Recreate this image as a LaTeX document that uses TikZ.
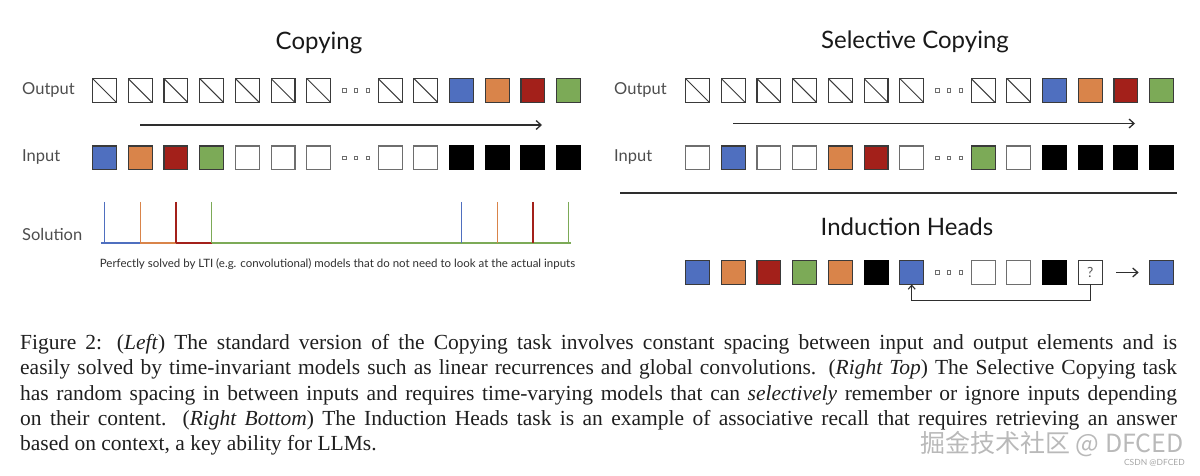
\documentclass[tikz,border=0pt]{standalone}
\usepackage{fontspec}
\setmainfont{Liberation Serif}
\newfontfamily\lato{Lato}
\newfontfamily\cjk{Noto Sans CJK SC}
\usetikzlibrary{arrows.meta}
\definecolor{cblue}{HTML}{4F6FBF}
\definecolor{corange}{HTML}{D9844A}
\definecolor{cred}{HTML}{A3201A}
\definecolor{cgreen}{HTML}{7CAA57}
\definecolor{edgedark}{HTML}{3A3A3A}
\definecolor{edgegray}{HTML}{6E6E6E}
\definecolor{txt}{HTML}{2E2E2E}
\tikzset{
  sq/.style={draw=edgedark, line width=1.1bp, minimum width=23.9bp, minimum height=23.9bp, inner sep=0pt, outer sep=0pt},
  sq-h/.style={sq, path picture={\draw[edgedark, line width=1bp] (path picture bounding box.north west) -- (path picture bounding box.south east);}},
  sq-b/.style={sq, fill=cblue},
  sq-o/.style={sq, fill=corange},
  sq-r/.style={sq, fill=cred},
  sq-g/.style={sq, fill=cgreen},
  sq-k/.style={sq, fill=black, draw=black},
  sq-w/.style={sq, draw=edgegray},
  sq-d/.style={minimum width=23.9bp, minimum height=23.9bp, inner sep=0pt, outer sep=0pt},
  qbox/.style={sq, draw=edgedark, line width=0.9bp, font=\lato\fontsize{14bp}{14bp}\selectfont, text=txt!80},
  tinysq/.style={draw=edgegray, line width=0.8bp},
  flow/.style={draw=txt, line width=1.4bp, -{Straight Barb[length=5bp,width=9bp,line width=1.3bp]}},
  back/.style={draw=txt, line width=1.2bp, -{Straight Barb[length=4bp,width=7bp,line width=1.1bp]}},
  rowlabel/.style={anchor=west, inner sep=0pt, font=\lato\fontsize{16.5bp}{16.5bp}\selectfont, text=txt!85},
  title/.style={inner sep=0pt, font=\lato\fontsize{24bp}{24bp}\selectfont, text=black!90},
  solline/.style={line width=1.2bp},
  capline/.style={anchor=base west, inner sep=0pt, font=\fontsize{21.5bp}{25bp}\selectfont, text=black!88},
}
\begin{document}
\begin{tikzpicture}[x=1bp, y=-1bp]
\useasboundingbox (0,0) rectangle (1200,476);

% titles
\node[title] (tcopy) at (319,43) {Copying};
\node[title] (tsel) at (915,42) {Selective Copying};
\node[title] (tind) at (907,227) {Induction Heads};

% row labels
\node[rowlabel] (lout) at (22,90) {Output};
\node[rowlabel] (lin) at (22,157) {Input};
\node[rowlabel] (lsol) at (22,234) {Solution};
\node[rowlabel] (rout) at (614,90) {Output};
\node[rowlabel] (rin) at (614,157) {Input};

% left copying
\foreach \c [count=\i from 0] in {h,h,h,h,h,h,h,d,h,h,b,o,r,g}
  \node[sq-\c] (LO-\i) at ({104.5+35.7*\i},90.5) {};
\foreach \c [count=\i from 0] in {b,o,r,g,w,w,w,d,w,w,k,k,k,k}
  \node[sq-\c] (LI-\i) at ({104.5+35.7*\i},158) {};
% right selective copying
\foreach \c [count=\i from 0] in {h,h,h,h,h,h,h,d,h,h,b,o,r,g}
  \node[sq-\c] (RO-\i) at ({697.5+35.7*\i},90.5) {};
\foreach \c [count=\i from 0] in {w,b,w,w,o,r,w,d,g,w,k,k,k,k}
  \node[sq-\c] (RI-\i) at ({697.5+35.7*\i},158) {};
% induction heads
\foreach \c [count=\i from 0] in {b,o,r,g,o,k,b,d,w,w,k}
  \node[sq-\c] (IH-\i) at ({697.5+35.7*\i},272.5) {};
\node[qbox] (IH-11) at ({697.5+35.7*11},272.5) {?};
\node[sq-b] (IH-13) at ({697.5+35.7*13},272.5) {};

% ellipsis dots
\foreach \n in {LO-7,LI-7,RO-7,RI-7,IH-7}
  \foreach \dx in {-11.7,0,11.7}
    \draw[tinysq] ([xshift=\dx bp, yshift=-1.6bp]\n.center) rectangle ++(3.2,-3.2);

% time arrows
\coordinate (arrLs) at (140,125);
\coordinate (arrLe) at (542,125);
\coordinate (arrRs) at (733,123.5);
\coordinate (arrRe) at (1135,123.5);
\draw[flow] (arrLs) -- (arrLe);
\draw[flow] (arrRs) -- (arrRe);

% solution
\foreach \xa/\xb/\col in {101/140.2/cblue, 140.2/175.9/corange, 175.9/211.6/cred, 211.6/571/cgreen}
  \draw[solline, \col] (\xa,243) -- (\xb,243);
\foreach \x/\col in {104.5/cblue,140.2/corange,175.9/cred,211.6/cgreen,461.5/cblue,497.2/corange,532.9/cred,568.6/cgreen}
  \draw[solline, \col] (\x,202) -- (\x,243);
\node[inner sep=0pt, font=\lato\fontsize{11.5bp}{11.5bp}\selectfont, text=txt] (solnote) at (337.5,264.5)
  {Perfectly solved by LTI (e.g. convolutional) models that do not need to look at the actual inputs};

% separator
\coordinate (sepA) at (620,193);
\coordinate (sepB) at (1177,193);
\draw[draw=txt, line width=1.5bp] (sepA) -- (sepB);

% induction arrows
\draw[flow, line width=1.3bp, shorten <=14bp, shorten >=11bp] (IH-11) -- (IH-13);
\draw[back] (IH-11.south) -- ++(0,16) -| (IH-6.south);

% caption
\node[capline] (cap1) at (20,349.5) {\hbox to 1157bp{Figure 2: (\textit{Left}) The standard version of the Copying task involves constant spacing between input and output elements and is}};
\node[capline] (cap2) at (20,374.8) {\hbox to 1157bp{easily solved by time-invariant models such as linear recurrences and global convolutions. (\textit{Right Top}) The Selective Copying task}};
\node[capline] (cap3) at (20,400.1) {\hbox to 1157bp{has random spacing in between inputs and requires time-varying models that can \textit{selectively} remember or ignore inputs depending}};
\node[capline] (cap4) at (20,425.4) {\hbox to 1157bp{on their content. (\textit{Right Bottom}) The Induction Heads task is an example of associative recall that requires retrieving an answer}};
\node[capline] (cap5) at (20,450.7) {based on context, a key ability for LLMs.};

% watermark
\node[anchor=east, inner sep=0pt, font=\cjk\fontsize{25bp}{25bp}\selectfont, text=gray!55] (wm) at (1184,444) {掘金技术社区 @ DFCED};
\node[anchor=east, inner sep=0pt, font=\lato\fontsize{8.5bp}{8.5bp}\selectfont, text=gray!70] (wm2) at (1185,462.5) {CSDN @DFCED};
\end{tikzpicture}
\end{document}
